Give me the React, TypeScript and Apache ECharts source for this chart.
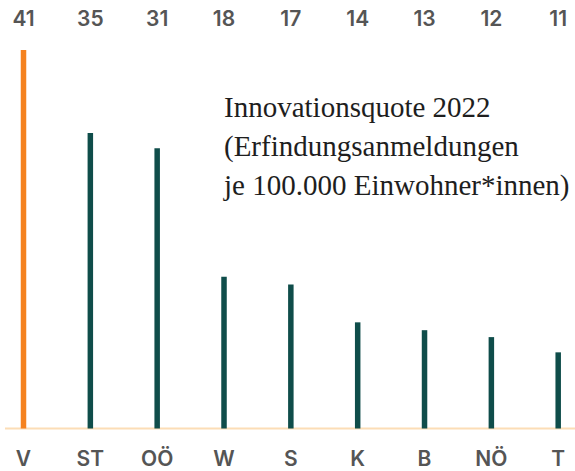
import React, { useEffect, useRef } from "react";
import * as echarts from "echarts";

// Categories (Bundesländer)
const categories = ["V", "ST", "OÖ", "W", "S", "K", "B", "NÖ", "T"];
// Values printed above the chart
const valueLabels = ["41", "35", "31", "18", "17", "14", "13", "12", "11"];
// Bar heights (scale 0–41)
const barValues = [41, 32.0, 30.35, 16.45, 15.6, 11.5, 10.65, 9.9, 8.25];
// Highlighted category index
const highlightIndex = 0;

const titleLines = [
  "Innovationsquote 2022",
  "(Erfindungsanmeldungen",
  "je 100.000 Einwohner*innen)",
];

const ORANGE = "#F5821F";
const TEAL = "#0F4D4A";
const LABEL_GREY = "#555555";

export default function App() {
  const ref = useRef<HTMLDivElement>(null);

  useEffect(() => {
    if (!ref.current) return;
    const chart = echarts.init(ref.current, undefined, { renderer: "svg" });
    const labelFont = {
      fontFamily: "Inter",
      fontWeight: 600,
      fontSize: 21,
      color: LABEL_GREY,
    };
    chart.setOption({
      animation: false,
      backgroundColor: "#ffffff",
      title: {
        text: titleLines.join("\n"),
        left: 219,
        top: 82,
        textStyle: {
          fontFamily: "Liberation Serif",
          fontWeight: "normal",
          fontSize: 29,
          lineHeight: 39,
          color: "#1e1e1e",
        },
      },
      grid: { left: 23.5, right: 16.8, top: 50, bottom: 42.5, containLabel: false },
      xAxis: [
        {
          type: "category",
          data: categories,
          boundaryGap: false,
          position: "bottom",
          axisLine: { show: false },
          axisTick: { show: false },
          splitLine: { show: false },
          axisLabel: { ...labelFont, margin: 19, interval: 0 },
        },
        {
          type: "category",
          data: valueLabels,
          boundaryGap: false,
          position: "top",
          axisLine: { show: false },
          axisTick: { show: false },
          splitLine: { show: false },
          axisLabel: { ...labelFont, margin: 21, interval: 0 },
        },
      ],
      yAxis: {
        type: "value",
        min: 0,
        max: 41,
        show: false,
        splitLine: { show: false },
      },
      graphic: [
        {
          type: "line",
          z: 0,
          shape: { x1: 5, y1: 428.5, x2: 575, y2: 428.5 },
          style: { stroke: "#FCDDB6", lineWidth: 2 },
        },
      ],
      series: [
        {
          type: "bar",
          xAxisIndex: 0,
          barWidth: 5.5,
          z: 3,
          data: barValues.map((v, i) => ({
            value: v,
            itemStyle: { color: i === highlightIndex ? ORANGE : TEAL },
          })),
        },
      ],
    });
    return () => chart.dispose();
  }, []);

  return (
    <div
      ref={ref}
      style={{ position: "fixed", left: 0, top: 0, width: 575, height: 471 }}
    />
  );
}
